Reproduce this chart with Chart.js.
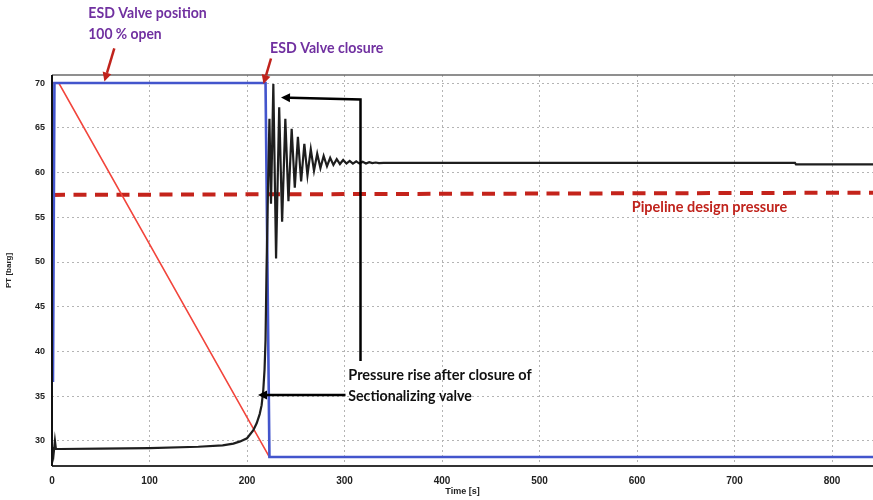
<!DOCTYPE html>
<html>
<head>
<meta charset="utf-8">
<script src="https://cdn.jsdelivr.net/npm/chart.js@4/dist/chart.umd.min.js"></script>
<style>
  html, body { margin: 0; padding: 0; background: #fff; }
  #wrap { width: 873px; height: 500px; position: relative; }
</style>
</head>
<body>
<div id="wrap"><canvas id="c" width="873" height="500"></canvas></div>
<script>
// Pressure transmitter PT reading (barg) against time (s)
const pressureTime = [0, 1.5, 3, 4, 8, 50, 100, 150, 175, 186, 193, 200, 206.5, 210, 213, 215, 216.7, 218, 219, 220,
  221.5, 223, 224.6, 227, 229.8, 233, 236, 239.3, 242.5, 245.8, 249, 252.2, 255.5, 258.8, 262, 265.4, 268.7,
  272, 275.3, 278.6, 282, 285.3, 288.6, 292, 295.3, 298.6, 302, 305.3, 308.6, 312, 315.3, 318.6, 322, 325.3,
  328.6, 332, 335.3, 340, 400, 500, 600, 700, 762, 763, 842];
const pressureBarg = [29.3, 28.4, 30.0, 29.1, 29.1, 29.15, 29.2, 29.35, 29.5, 29.7, 29.95, 30.3, 31.2, 32.0, 33.0, 34.0, 35.7, 38.0, 41.3, 49.0,
  58.0, 66.0, 56.5, 69.9, 50.4, 67.3, 54.5, 66.0, 56.8, 64.9, 58.3, 64.0, 59.0, 63.2, 59.7, 62.6, 60.2,
  62.1, 60.5, 61.85, 60.7, 61.65, 60.85, 61.5, 60.95, 61.4, 61.0, 61.3, 61.0, 61.25, 61.0, 61.2, 61.0, 61.15,
  61.05, 61.12, 61.05, 61.08, 61.07, 61.07, 61.07, 61.07, 61.07, 60.9, 60.9];

// ESD valve position trace, plotted on the pressure axis
const valveTime = [1, 2.5, 219, 223, 842];
const valveLevel = [36.6, 70, 70, 28.2, 28.2];

// Valve closing ramp
const rampTime = [0.5, 7, 223];
const rampLevel = [70, 70, 28.2];

// Pipeline design pressure reference
const designTime = [0, 842];
const designBarg = [57.5, 57.75];

// Axis ticks
const xTickValues = [0, 100, 200, 300, 400, 500, 600, 700, 800];
const yTickValues = [30, 35, 40, 45, 50, 55, 60, 65, 70];

const zip = (xs, ys) => xs.map((x, i) => ({ x: x, y: ys[i] }));

const PURPLE = '#7030a0';
const DARKRED = '#c0231c';

// Call-out texts: left x, baseline y, drawn width
const notes = [
  { text: 'ESD Valve position', x: 88.3, y: 18.3, w: 118.5, color: PURPLE },
  { text: '100 % open', x: 88.3, y: 38.8, w: 73.4, color: PURPLE },
  { text: 'ESD Valve closure', x: 270, y: 53.3, w: 113.3, color: PURPLE },
  { text: 'Pipeline design pressure', x: 631.7, y: 211.6, w: 155.6, color: DARKRED },
  { text: 'Pressure rise after closure of', x: 348.3, y: 380, w: 183.4, color: '#111' },
  { text: 'Sectionalizing valve', x: 348.3, y: 400.5, w: 123.4, color: '#111' }
];

// Call-out arrows: polyline, head at the last point
const arrows = [
  { pts: [[114.3, 48.3], [104.4, 81.5]], color: DARKRED },
  { pts: [[271, 58.5], [263.5, 84]], color: DARKRED },
  { pts: [[360.5, 361], [360.5, 99.5], [281, 97.5]], color: '#000' },
  { pts: [[345.5, 395], [258, 395]], color: '#000' }
];

const calloutPlugin = {
  id: 'callouts',
  afterDatasetsDraw(chart) {
    const { ctx, chartArea: a } = chart;
    ctx.save();
    // plot frame
    ctx.strokeStyle = '#6a6a6a';
    ctx.lineWidth = 1.5;
    ctx.beginPath(); ctx.moveTo(a.left, a.top); ctx.lineTo(a.right, a.top); ctx.stroke();
    ctx.strokeStyle = '#333';
    ctx.lineWidth = 2;
    ctx.beginPath(); ctx.moveTo(a.left, a.bottom); ctx.lineTo(a.right, a.bottom); ctx.stroke();
    ctx.strokeStyle = '#111';
    ctx.beginPath(); ctx.moveTo(a.left, a.top); ctx.lineTo(a.left, a.bottom); ctx.stroke();

    // arrows
    arrows.forEach(ar => {
      const p = ar.pts;
      ctx.strokeStyle = ar.color;
      ctx.fillStyle = ar.color;
      ctx.lineWidth = 2.5;
      ctx.lineCap = 'butt';
      ctx.lineJoin = 'miter';
      const n = p.length;
      const [x1, y1] = p[n - 2];
      const [x2, y2] = p[n - 1];
      const ang = Math.atan2(y2 - y1, x2 - x1);
      const head = 9, half = 4.5;
      const bx = x2 - head * Math.cos(ang), by = y2 - head * Math.sin(ang);
      ctx.beginPath();
      ctx.moveTo(p[0][0], p[0][1]);
      for (let i = 1; i < n - 1; i++) ctx.lineTo(p[i][0], p[i][1]);
      ctx.lineTo(bx, by);
      ctx.stroke();
      ctx.beginPath();
      ctx.moveTo(x2, y2);
      ctx.lineTo(bx + half * Math.sin(ang), by - half * Math.cos(ang));
      ctx.lineTo(bx - half * Math.sin(ang), by + half * Math.cos(ang));
      ctx.closePath();
      ctx.fill();
    });

    // texts
    ctx.textBaseline = 'alphabetic';
    ctx.textAlign = 'left';
    notes.forEach(nt => {
      ctx.font = 'bold 16px Lato, "Open Sans", sans-serif';
      const m = ctx.measureText(nt.text).width;
      ctx.save();
      ctx.translate(nt.x, nt.y);
      ctx.scale(nt.w / m, 1);
      ctx.fillStyle = nt.color;
      ctx.fillText(nt.text, 0, 0);
      ctx.restore();
    });
    ctx.restore();
  }
};

const tickFont = '"Liberation Sans Narrow", "Liberation Sans", Arial, sans-serif';

new Chart(document.getElementById('c'), {
  type: 'line',
  data: {
    datasets: [
      { label: 'Design pressure', data: zip(designTime, designBarg), borderColor: '#c4231b', borderWidth: 4,
        borderDash: [13, 8.5], pointRadius: 0, order: 4 },
      { label: 'Ramp', data: zip(rampTime, rampLevel), borderColor: '#f2453c', borderWidth: 1.6,
        pointRadius: 0, order: 3 },
      { label: 'Valve position', data: zip(valveTime, valveLevel), borderColor: '#4355cc', borderWidth: 2.6,
        pointRadius: 0, order: 2 },
      { label: 'PT', data: zip(pressureTime, pressureBarg), borderColor: '#1e1e1e', borderWidth: 2.2,
        pointRadius: 0, order: 1 }
    ]
  },
  options: {
    responsive: false,
    animation: false,
    layout: { padding: { top: 75, left: 0, right: 0, bottom: 0 } },
    plugins: { legend: { display: false }, tooltip: { enabled: false } },
    elements: { line: { tension: 0 } },
    scales: {
      x: {
        type: 'linear',
        min: 0, max: 842,
        afterBuildTicks: s => { s.ticks = xTickValues.map(v => ({ value: v })); },
        afterFit: s => { s.height = 34; },
        grid: { color: '#b4b4b4', lineWidth: 1, drawTicks: false },
        border: { display: false, dash: [2, 3] },
        ticks: { padding: 9, color: '#222', font: { family: tickFont, size: 10, weight: 'bold' }, maxRotation: 0 },
        title: { display: true, text: 'Time [s]', color: '#222',
          font: { family: tickFont, size: 9, weight: 'bold' }, padding: { top: 0, bottom: 3 } }
      },
      y: {
        min: 27.2, max: 70.9,
        afterBuildTicks: s => { s.ticks = yTickValues.map(v => ({ value: v })); },
        afterFit: s => { s.width = 52; },
        grid: { color: '#b4b4b4', lineWidth: 1, drawTicks: false },
        border: { display: false, dash: [2, 3] },
        ticks: { padding: 7, color: '#222', font: { family: tickFont, size: 9, weight: 'bold' } },
        title: { display: true, text: 'PT [barg]', color: '#222',
          font: { family: tickFont, size: 8, weight: 'bold' }, padding: { top: 4, bottom: 0 } }
      }
    }
  },
  plugins: [calloutPlugin]
});
</script>
</body>
</html>
